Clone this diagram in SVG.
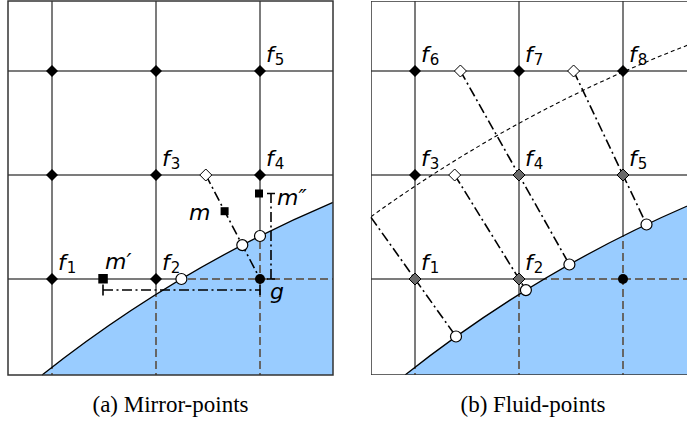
<svg xmlns="http://www.w3.org/2000/svg" width="687" height="422" viewBox="0 0 687 422">
<style>
.gs{stroke:#7c7c7c;stroke-width:2;fill:none}
.gd{stroke:#666;stroke-width:2;fill:none;stroke-dasharray:8 4}
.fl{fill:#99ccff;stroke:none}
.bd{fill:none;stroke:#000;stroke-width:1.3}
.fr{fill:none;stroke:#333;stroke-width:1.5}
.dd{fill:none;stroke:#000;stroke-width:1.6;stroke-dasharray:10 3.5 2 3.5}
.tk{fill:none;stroke:#000;stroke-width:1.6}
.ds{fill:none;stroke:#000;stroke-width:1.1;stroke-dasharray:4 3}
.bdm{fill:#000}
.wdm{fill:#fff;stroke:#000;stroke-width:1}
.gdm{fill:#6a6a6a;stroke:#000;stroke-width:1}
.wc{fill:#fff;stroke:#000;stroke-width:1.2}
.bc{fill:#000}
.sq{fill:#000}
.lb{font-family:"DejaVu Sans",sans-serif;font-style:italic;font-size:22px;fill:#000}
.sb{font-size:15px;font-style:normal}
.cap{font-family:"Liberation Serif",serif;font-size:23px;fill:#000;text-anchor:middle}
</style>
<defs>
<path id="dm" d="M0,-6 L6,0 L0,6 L-6,0 Z"/>
<clipPath id="cr"><rect x="371" y="1" width="325" height="374"/></clipPath>
<clipPath id="cfa"><path d="M42.1,375 A1254,1254 0 0 1 333,202.3 L333,375 Z"/></clipPath>
<clipPath id="cfb"><path d="M405.1,375 A1254,1254 0 0 1 696,202.3 L696,375 Z"/></clipPath>
</defs>

<g id="panel-a">
<g id="grid-a">
<path class="gs" d="M52,1V375M156,1V375M260,1V375M8,71H333M8,175H333M8,279H333"/>
</g>
<path id="fluid-a" class="fl" d="M42.1,375 A1254,1254 0 0 1 333,202.3 L333,375 Z"/>
<path class="gd" clip-path="url(#cfa)" d="M52,1V375M156,1V375M260,1V375M8,71H333M8,175H333M8,279H333"/>
<path id="boundary-a" class="bd" d="M42.1,375 A1254,1254 0 0 1 333,202.3"/>
<rect id="frame-a" class="fr" x="8" y="1" width="325" height="374"/>
</g>

<g id="panel-b">
<g clip-path="url(#cr)">
<path class="gs" d="M415,1V375M519,1V375M623,1V375M371,71H696M371,175H696M371,279H696"/>
<path id="fluid-b" class="fl" d="M405.1,375 A1254,1254 0 0 1 696,202.3 L696,375 Z"/>
<path class="gd" clip-path="url(#cfb)" d="M415,1V375M519,1V375M623,1V375M371,71H696M371,175H696M371,279H696"/>
<path id="boundary-b" class="bd" d="M405.1,375 A1254,1254 0 0 1 696,202.3"/>
<path id="offset-b" class="ds" d="M371,216.7 A1401,1401 0 0 1 696,42"/>
<rect id="frame-b" class="fr" x="371" y="1" width="325" height="374"/>
</g>
</g>

<g id="connectors">
<path class="dd" d="M205.8,175 L260,279"/>
<path class="dd" d="M271,193 V279"/>
<path class="tk" d="M267,193.5 H275 M267,279 H275"/>
<path class="dd" d="M103,290 H260"/>
<path class="tk" d="M103,284.5 V295.5 M260,285 V295"/>
<path class="dd" d="M371,217.4 L456,336.5"/>
<path class="dd" d="M454.7,175 L525.9,290.1"/>
<path class="dd" d="M460.4,71 L569.4,264.5"/>
<path class="dd" d="M573.6,71 L646.5,224.5"/>
</g>

<g id="nodes-a">
<g id="a-f1"><use href="#dm" class="bdm" x="52" y="279"/><text class="lb" x="58" y="270">f<tspan class="sb" dx="1" dy="3">1</tspan></text></g>
<g id="a-f2"><use href="#dm" class="bdm" x="156" y="279"/><text class="lb" x="162" y="270">f<tspan class="sb" dx="1" dy="3">2</tspan></text></g>
<g id="a-f3"><use href="#dm" class="bdm" x="156" y="175"/><text class="lb" x="162" y="166">f<tspan class="sb" dx="1" dy="3">3</tspan></text></g>
<g id="a-f4"><use href="#dm" class="bdm" x="260" y="175"/><text class="lb" x="266" y="166">f<tspan class="sb" dx="1" dy="3">4</tspan></text></g>
<g id="a-f5"><use href="#dm" class="bdm" x="260" y="71"/><text class="lb" x="266" y="62">f<tspan class="sb" dx="1" dy="3">5</tspan></text></g>
<g id="a-n1"><use href="#dm" class="bdm" x="52" y="71"/></g>
<g id="a-n2"><use href="#dm" class="bdm" x="156" y="71"/></g>
<g id="a-n3"><use href="#dm" class="bdm" x="52" y="175"/></g>
<g id="a-d"><use href="#dm" class="wdm" x="205.8" y="175"/></g>
<g id="a-b1"><circle class="wc" cx="181.4" cy="279" r="5.5"/></g>
<g id="a-b2"><circle class="wc" cx="242.3" cy="245.1" r="5.5"/></g>
<g id="a-b3"><circle class="wc" cx="260" cy="236" r="5.5"/></g>
<g id="a-g"><circle class="bc" cx="260" cy="279" r="5"/><text class="lb" x="270" y="299">g</text></g>
<g id="a-m"><rect class="sq" x="220.6" y="207.2" width="8" height="8"/><text class="lb" x="189" y="220">m</text></g>
<g id="a-m1"><rect class="sq" x="98.3" y="274" width="9.5" height="9.5"/><text class="lb" x="105" y="269">m′</text></g>
<g id="a-m2"><rect class="sq" x="255" y="189.5" width="8" height="8"/><text class="lb" x="277" y="205">m″</text></g>
</g>

<g id="nodes-b">
<g id="b-f6"><use href="#dm" class="bdm" x="415" y="71"/><text class="lb" x="421" y="62">f<tspan class="sb" dx="1" dy="3">6</tspan></text></g>
<g id="b-f7"><use href="#dm" class="bdm" x="519" y="71"/><text class="lb" x="525" y="62">f<tspan class="sb" dx="1" dy="3">7</tspan></text></g>
<g id="b-f8"><use href="#dm" class="bdm" x="623" y="71"/><text class="lb" x="629" y="62">f<tspan class="sb" dx="1" dy="3">8</tspan></text></g>
<g id="b-f3"><use href="#dm" class="bdm" x="415" y="175"/><text class="lb" x="421" y="166">f<tspan class="sb" dx="1" dy="3">3</tspan></text></g>
<g id="b-f4"><use href="#dm" class="gdm" x="519" y="175"/><text class="lb" x="525" y="166">f<tspan class="sb" dx="1" dy="3">4</tspan></text></g>
<g id="b-f5"><use href="#dm" class="gdm" x="623" y="175"/><text class="lb" x="629" y="166">f<tspan class="sb" dx="1" dy="3">5</tspan></text></g>
<g id="b-f1"><use href="#dm" class="gdm" x="415" y="279"/><text class="lb" x="421" y="270">f<tspan class="sb" dx="1" dy="3">1</tspan></text></g>
<g id="b-f2"><use href="#dm" class="gdm" x="519" y="279"/><text class="lb" x="525" y="270">f<tspan class="sb" dx="1" dy="3">2</tspan></text></g>
<g id="b-d1"><use href="#dm" class="wdm" x="460.4" y="71"/></g>
<g id="b-d2"><use href="#dm" class="wdm" x="573.6" y="71"/></g>
<g id="b-d3"><use href="#dm" class="wdm" x="454.7" y="175"/></g>
<g id="b-b1"><circle class="wc" cx="456" cy="336.5" r="5.5"/></g>
<g id="b-b2"><circle class="wc" cx="525.9" cy="290.1" r="5.5"/></g>
<g id="b-b3"><circle class="wc" cx="569.4" cy="264.5" r="5.5"/></g>
<g id="b-b4"><circle class="wc" cx="646.5" cy="224.5" r="5.5"/></g>
<g id="b-g"><circle class="bc" cx="623" cy="279" r="5"/></g>
</g>

<text id="cap-a" class="cap" x="170.5" y="412">(a) Mirror-points</text>
<text id="cap-b" class="cap" x="533" y="412">(b) Fluid-points</text>
</svg>
